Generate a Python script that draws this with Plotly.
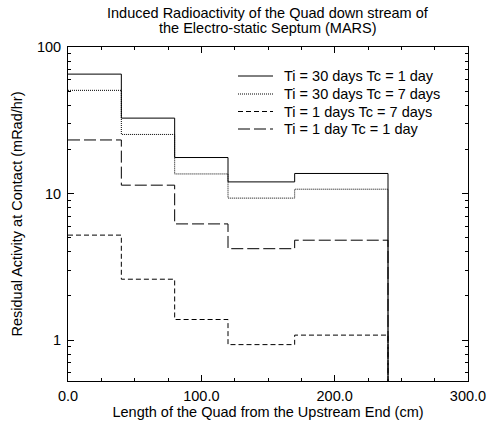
import plotly.graph_objects as go
import math

# ---- data ----
bin_edges = [0, 40, 80, 120, 170, 240]
series_names = [
    "Ti = 30 days Tc = 1 day",
    "Ti = 30 days Tc = 7 days",
    "Ti = 1 days Tc = 7 days",
    "Ti = 1 day Tc = 1 day",
]
ti30_tc1 = [65.3, 32.7, 17.6, 12.0, 13.7]
ti30_tc7 = [50.6, 25.3, 13.6, 9.3, 10.7]
ti1_tc7 = [5.2, 2.6, 1.38, 0.93, 1.08]
ti1_tc1 = [23.2, 11.4, 6.2, 4.2, 4.8]
x_tick_vals = [0, 100, 200, 300]
x_tick_text = ["0.0", "100.0", "200.0", "300.0"]
y_tick_vals = [1, 10, 100]
y_tick_text = ["1", "10", "100"]
title_lines = ["Induced Radioactivity of the Quad down stream of",
               "the Electro-static Septum (MARS)"]

y_min, y_max = 0.525, 100
dashes = ["solid", "1px,1px", "5px,3px", "12px,4px"]
all_series = [ti30_tc1, ti30_tc7, ti1_tc7, ti1_tc1]

FONT = "Liberation Sans, Arial, sans-serif"
FS = 14.5
W, H = 487, 423
ML, MR, MT, MB = 68, 19, 47, 42
PW, PH = W - ML - MR, H - MT - MB


def px_to_paper_x(px):
    return (px - ML) / PW


def px_to_paper_y(py):
    return (H - MB - py) / PH


fig = go.Figure()
for name, vals, dash in zip(series_names, all_series, dashes):
    # step: each bin value held from its left edge, final drop to axis bottom
    xs = list(bin_edges)
    ys = list(vals) + [y_min * 0.01]
    fig.add_trace(go.Scatter(
        x=xs, y=ys, mode="lines", name=name, showlegend=False,
        line=dict(shape="hv", color="black", width=1, dash=dash),
    ))

minor_y = [m * 10 ** d for d in range(-1, 2) for m in range(2, 10)
           if y_min < m * 10 ** d < y_max]

# manual legend (key lines + labels), placed like the reference
legend_rows_px = [76, 94, 111.5, 129]
shapes = []
annotations = []
for name, dash, ry in zip(series_names, dashes, legend_rows_px):
    shapes.append(dict(
        type="line", xref="paper", yref="paper",
        x0=px_to_paper_x(238), x1=px_to_paper_x(273),
        y0=px_to_paper_y(ry), y1=px_to_paper_y(ry),
        line=dict(color="black", width=1, dash=dash),
    ))
    annotations.append(dict(
        text=name, xref="paper", yref="paper",
        x=px_to_paper_x(282), y=px_to_paper_y(ry),
        xanchor="left", yanchor="middle", showarrow=False,
        font=dict(family=FONT, size=FS, color="black"),
    ))

for line, ty in zip(title_lines, [13, 28.5]):
    annotations.append(dict(
        text=line, xref="paper", yref="paper",
        x=0.5, y=px_to_paper_y(ty), xanchor="center", yanchor="middle",
        showarrow=False, font=dict(family=FONT, size=FS, color="black"),
    ))

fig.update_layout(
    width=W, height=H,
    margin=dict(l=ML, r=MR, t=MT, b=MB, autoexpand=False),
    paper_bgcolor="white", plot_bgcolor="white",
    font=dict(family=FONT, size=FS, color="black"),
    showlegend=False,
    shapes=shapes,
    annotations=annotations,
)

fig.update_xaxes(
    range=[0, 300], automargin=False,
    tickvals=x_tick_vals, ticktext=x_tick_text,
    showline=True, linecolor="black", linewidth=1, mirror="ticks",
    ticks="inside", ticklen=6, tickcolor="black", ticklabelstandoff=2,
    minor=dict(ticks="inside", ticklen=3, dtick=25, tickcolor="black", showgrid=False),
    showgrid=False, zeroline=False,
    title=dict(text="Length of the Quad from the Upstream End (cm)",
               font=dict(family=FONT, size=FS), standoff=3),
    tickfont=dict(family=FONT, size=FS),
)
fig.update_yaxes(
    type="log", automargin=False,
    range=[math.log10(y_min), math.log10(y_max)],
    tickvals=y_tick_vals, ticktext=y_tick_text,
    showline=True, linecolor="black", linewidth=1, mirror="ticks",
    ticks="inside", ticklen=6, tickcolor="black", ticklabelstandoff=3,
    minor=dict(ticks="inside", ticklen=3, tickvals=minor_y, tickcolor="black", showgrid=False),
    showgrid=False, zeroline=False,
    title=dict(text="Residual Activity at Contact (mRad/hr)",
               font=dict(family=FONT, size=FS), standoff=10),
    tickfont=dict(family=FONT, size=FS),
)

fig.write_html(
    "out.html",
    config={"displayModeBar": False},
    post_script="document.body.style.margin='0px';document.body.style.overflow='hidden';",
)
